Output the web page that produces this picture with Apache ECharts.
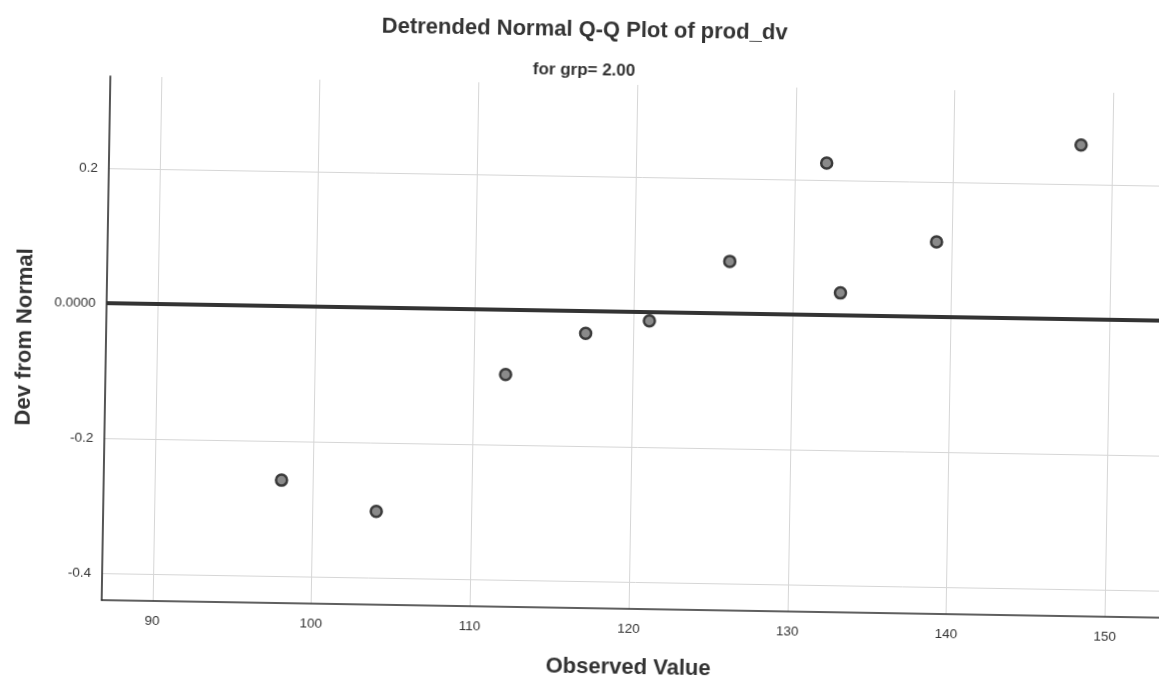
<!DOCTYPE html>
<html>
<head>
<meta charset="utf-8">
<script src="https://cdn.jsdelivr.net/npm/echarts@6/dist/echarts.min.js"></script>
<style>
  html, body { margin: 0; padding: 0; background: #fff; overflow: hidden; width: 1159px; height: 687px; }
  #chart {
    position: absolute; left: -20px; top: -20px; width: 1199px; height: 727px;
    transform: rotate(0.95deg); transform-origin: 50% 50%;
  }
</style>
</head>
<body>
<div id="chart"></div>
<script>
// Observed values and their deviation from the expected normal quantile
const observed = [98, 104, 112, 117, 121, 126, 132, 133, 139, 148];
const devFromNormal = [-0.258, -0.302, -0.096, -0.033, -0.013, 0.077, 0.225, 0.033, 0.111, 0.258];

// Labelled tick positions on each axis
const xTicks = [90, 100, 110, 120, 130, 140, 150];
const yTicks = [-0.4, -0.2, 0, 0.2];

const points = observed.map((v, i) => [v, devFromNormal[i]]);

const FONT = '"Liberation Sans", Arial, Helvetica, sans-serif';
const isTick = (list, v) => list.some(t => Math.abs(t - v) < 1e-6);

const chart = echarts.init(document.getElementById('chart'), null, { renderer: 'canvas' });

chart.setOption({
  backgroundColor: '#ffffff',
  animation: false,
  title: [
    {
      text: 'Detrended Normal Q-Q Plot of prod_dv',
      left: 'center', top: 34,
      padding: [5, 0, 5, 8],
      textStyle: { fontFamily: FONT, fontSize: 22, fontWeight: 'bold', color: '#333333' }
    },
    {
      text: 'for grp= 2.00',
      left: 'center', top: 77,
      padding: [5, 0, 5, 6],
      textStyle: { fontFamily: FONT, fontSize: 17, fontWeight: 'bold', color: '#333333' }
    }
  ],
  grid: { left: 126, right: 6, top: 104, bottom: 99, containLabel: false },
  xAxis: {
    type: 'value',
    min: 86.8, max: 154,
    name: 'Observed Value',
    nameLocation: 'middle',
    nameGap: 48,
    nameTextStyle: { fontFamily: FONT, fontSize: 22, fontWeight: 'bold', color: '#333333', padding: [0, 12, 0, 0] },
    axisLine: { show: true, onZero: false, lineStyle: { color: '#2b2b2b', width: 1.6 } },
    axisTick: { show: false },
    axisLabel: {
      margin: 13, fontFamily: FONT, fontSize: 13.5, color: '#333333',
      showMinLabel: false, showMaxLabel: false,
      formatter: v => isTick(xTicks, v) ? String(Math.round(v)) : ''
    },
    splitLine: { show: true, showMinLine: false, showMaxLine: false, lineStyle: { color: '#d6d6d6', width: 1 } }
  },
  yAxis: {
    type: 'value',
    min: -0.44, max: 0.336,
    name: 'Dev from Normal',
    nameLocation: 'middle',
    nameRotate: 90,
    nameGap: 70,
    nameTextStyle: { fontFamily: FONT, fontSize: 22, fontWeight: 'bold', color: '#333333' },
    axisLine: { show: true, onZero: false, lineStyle: { color: '#2b2b2b', width: 1.6 } },
    axisTick: { show: false },
    axisLabel: {
      margin: 11, fontFamily: FONT, fontSize: 13.5, color: '#333333',
      showMinLabel: false, showMaxLabel: false,
      formatter: v => {
        if (!isTick(yTicks, v)) return '';
        return Math.abs(v) < 1e-9 ? '0.0000' : v.toFixed(1);
      }
    },
    splitLine: { show: true, showMinLine: false, showMaxLine: false, lineStyle: { color: '#d6d6d6', width: 1 } }
  },
  series: [
    {
      type: 'scatter',
      data: points,
      symbol: 'circle',
      symbolSize: 11,
      itemStyle: { color: '#8a8a8a', borderColor: '#3a3a3a', borderWidth: 2.5, opacity: 1 },
      markLine: {
        silent: true,
        symbol: ['none', 'none'],
        label: { show: false },
        lineStyle: { color: '#333333', width: 4, type: 'solid' },
        data: [{ yAxis: 0 }]
      },
      z: 3
    }
  ]
});
</script>
</body>
</html>
